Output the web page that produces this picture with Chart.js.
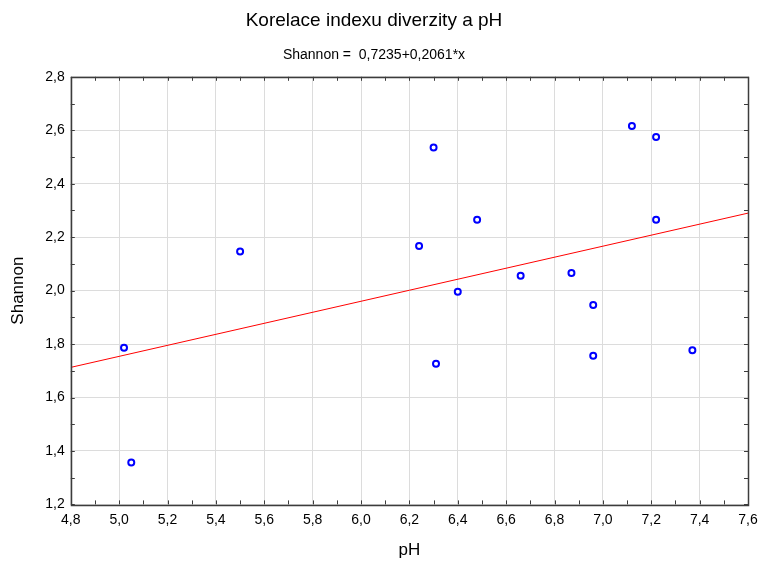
<!DOCTYPE html>
<html>
<head>
<meta charset="utf-8">
<script src="https://cdn.jsdelivr.net/npm/chart.js@4"></script>
<style>
  html, body { margin: 0; padding: 0; background: #fff; }
  #wrap { width: 760px; height: 563px; }
</style>
</head>
<body>
<div id="wrap"><canvas id="myChart" width="760" height="563"></canvas></div>
<script>
// namerene hodnoty
const ph = [5.02, 5.05, 5.50, 6.24, 6.30, 6.31, 6.40, 6.48, 6.66, 6.87, 6.96, 6.96, 7.12, 7.22, 7.22, 7.37]
const shannon = [1.786, 1.357, 2.146, 2.167, 2.535, 1.726, 1.996, 2.265, 2.056, 2.066, 1.946, 1.756, 2.616, 2.575, 2.265, 1.777]

// regresni primka Shannon = 0,7235 + 0,2061*x
const primkaX = [4.8, 7.6]
const koef = [0.7235, 0.2061]

const xTicks = [4.8, 5.0, 5.2, 5.4, 5.6, 5.8, 6.0, 6.2, 6.4, 6.6, 6.8, 7.0, 7.2, 7.4, 7.6]
const yTicks = [1.2, 1.4, 1.6, 1.8, 2.0, 2.2, 2.4, 2.6, 2.8]

const body = "'Liberation Sans', Arial, sans-serif"
const carka = v => Number(v).toFixed(1).replace(".", ",")

// ramecek a vnitrni carky
const ramecek = {
    id: "ramecek",
    afterDraw(chart) {
        const {ctx, chartArea: a, scales} = chart
        ctx.save()
        ctx.strokeStyle = "#3c3c3c"
        ctx.lineWidth = 1
        ctx.beginPath()
        // minor + major carky dovnitr
        for (let i = 0; i <= 28; i++) {
            const px = Math.round(scales.x.getPixelForValue(4.8 + i * 0.1)) + 0.5
            ctx.moveTo(px, a.bottom); ctx.lineTo(px, a.bottom - 4)
            ctx.moveTo(px, a.top); ctx.lineTo(px, a.top + 4)
        }
        for (let i = 0; i <= 16; i++) {
            const py = Math.round(scales.y.getPixelForValue(1.2 + i * 0.1)) + 0.5
            ctx.moveTo(a.left, py); ctx.lineTo(a.left + 4, py)
            ctx.moveTo(a.right, py); ctx.lineTo(a.right - 4, py)
        }
        ctx.stroke()
        ctx.lineWidth = 1.5
        ctx.strokeRect(Math.round(a.left) + 0.5, Math.round(a.top) + 0.5,
            Math.round(a.right - a.left), Math.round(a.bottom - a.top))
        ctx.restore()
    }
}

const grafico = document.getElementById("myChart").getContext("2d")
const myChart = new Chart(grafico, {
    type: "scatter",
    data: {
        datasets: [
            {
                label: "body",
                data: ph.map((x, i) => ({x: x, y: shannon[i]})),
                pointRadius: 3,
                pointBorderWidth: 2,
                pointBorderColor: "#0000ff",
                pointBackgroundColor: "#ffffff",
                showLine: false,
                order: 1
            },
            {
                label: "primka",
                data: primkaX.map(x => ({x: x, y: koef[0] + koef[1] * x})),
                showLine: true,
                borderColor: "#ff0000",
                borderWidth: 1,
                pointRadius: 0,
                order: 2
            }
        ]
    },
    options: {
        responsive: false,
        animation: false,
        layout: { padding: { left: 0, right: 12, top: 0, bottom: 0 } },
        plugins: {
            legend: { display: false },
            tooltip: { enabled: false },
            title: {
                display: true,
                text: "Korelace indexu diverzity a pH",
                color: "#000",
                font: { family: body, size: 19, weight: "normal" },
                padding: { top: 9, bottom: 14.8 }
            },
            subtitle: {
                display: true,
                text: "Shannon =  0,7235+0,2061*x",
                color: "#000",
                font: { family: body, size: 14, weight: "normal" },
                padding: { top: 0, bottom: 13.4 }
            }
        },
        scales: {
            x: {
                type: "linear",
                min: 4.8,
                max: 7.6,
                afterBuildTicks: s => { s.ticks = xTicks.map(v => ({value: v})) },
                afterFit: s => { s.height = 58.6; s.paddingLeft = 0; s.paddingRight = 0 },
                grid: { color: "#dcdcdc", drawTicks: false },
                border: { display: false },
                ticks: {
                    color: "#000",
                    padding: 7,
                    maxRotation: 0,
                    font: { family: body, size: 14 },
                    callback: v => carka(v)
                },
                title: {
                    display: true,
                    text: "pH",
                    color: "#000",
                    font: { family: body, size: 17 },
                    padding: { top: 4, bottom: 2 }
                }
            },
            y: {
                type: "linear",
                min: 1.2,
                max: 2.8,
                afterBuildTicks: s => { s.ticks = yTicks.map(v => ({value: v})) },
                afterFit: s => { s.width = 70.8 },
                grid: { color: "#dcdcdc", drawTicks: false },
                border: { display: false },
                ticks: {
                    color: "#000",
                    padding: 6,
                    font: { family: body, size: 14 },
                    callback: v => carka(v)
                },
                title: {
                    display: true,
                    text: "Shannon",
                    color: "#000",
                    font: { family: body, size: 17 },
                    padding: { top: 8, bottom: 4 }
                }
            }
        }
    },
    plugins: [ramecek]
})
</script>
</body>
</html>
